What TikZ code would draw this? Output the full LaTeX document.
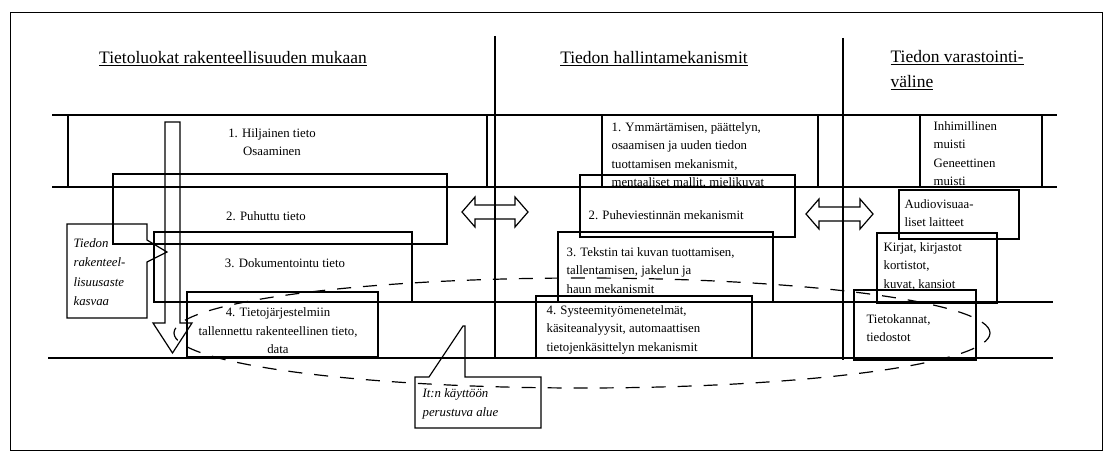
\documentclass[tikz,border=0pt]{standalone}
\usepackage{fontspec}
\setmainfont{Liberation Serif}
\usetikzlibrary{positioning}

\begin{document}
\begin{tikzpicture}[
  x=1pt, y=-1pt,
  line width=1.2pt, line join=miter,
  txt/.style={font=\fontsize{12.8}{18.5}\selectfont, inner sep=0pt, align=left, anchor=north west},
  ctxt/.style={font=\fontsize{12.8}{18.5}\selectfont, inner sep=0pt, align=center},
  itxt/.style={txt, font=\fontsize{12.8}{19.5}\selectfont\itshape},
  head/.style={font=\fontsize{17.5}{25}\selectfont, inner sep=0pt, align=left},
  band/.style={line width=1.2pt},
  area/.style={dash pattern=on 14pt off 12pt, line width=1.2pt}
]
\useasboundingbox (0,0) rectangle (1106,452);
\draw[line width=0.9pt] (10,12) rectangle (1102,450);

% column headings
\node[head] (hcls) at (233,59) {\underline{Tietoluokat rakenteellisuuden mukaan}};
\node[head] (hmech) at (654,59) {\underline{Tiedon hallintamekanismit}};
\node[head, anchor=north west] (hstore) at (890,50) {\underline{Tiedon varastointi-}\\\underline{väline}};

% dividers and bands
\draw (495,36) -- (495,358);
\draw (843,38) -- (843,360);
\draw[band] (52,115) -- (1057,115);
\draw[band] (52,187) -- (1057,187);
\draw[band] (154,302) -- (1053,302);
\draw[band] (48,358) -- (1053,358);

% information classes
\draw (68,115) rectangle (487,187);
\draw (113,174) rectangle (447,244);
\draw (154,232) rectangle (412,302);
\draw (187,292) rectangle (378,357);
\node[ctxt] (tacit) at (272,142) {1. Hiljainen tieto\\Osaaminen};
\node[ctxt] (spoken) at (266,216) {2. Puhuttu tieto};
\node[ctxt] (docum) at (285,263) {3. Dokumentointu tieto};
\node[ctxt] (stored) at (278,331) {4. Tietojärjestelmiin\\tallennettu rakenteellinen tieto,\\data};

% mechanisms
\draw (602,115) rectangle (818,187);
\draw (580,175) rectangle (795,237);
\draw (558,232) rectangle (773,302);
\draw (536,296) rectangle (752,358);
\node[txt] (mcog) at (611,122) {1. Ymmärtämisen, päättelyn,\\osaamisen ja uuden tiedon\\tuottamisen mekanismit,\\mentaaliset mallit, mielikuvat};
\node[txt, anchor=west] (mspeech) at (588,215) {2. Puheviestinnän mekanismit};
\node[txt] (mtext) at (566,247) {3. Tekstin tai kuvan tuottamisen,\\tallentamisen, jakelun ja\\haun mekanismit};
\node[txt] (msys) at (546,305) {4. Systeemityömenetelmät,\\käsiteanalyysit, automaattisen\\tietojenkäsittelyn mekanismit};

% storage media
\draw (920,115) rectangle (1042,187);
\draw (899,190) rectangle (1019,239);
\draw (877,233) rectangle (997,303);
\draw (854,290) rectangle (976,360);
\node[txt] (shuman) at (933,121) {Inhimillinen\\muisti\\Geneettinen\\muisti};
\node[txt] (sav) at (904,199) {Audiovisuaa-\\liset laitteet};
\node[txt] (sbook) at (883,242) {Kirjat, kirjastot\\kortistot,\\kuvat, kansiot};
\node[txt] (sdb) at (866,314) {Tietokannat,\\tiedostot};

% block arrows
\draw (165,122) -- (180,122) -- (180,323) -- (192,323) -- (172.5,353) -- (153,323) -- (165,323) -- cycle;
\draw (462,212) -- (475,197) -- (475,205) -- (515,205) -- (515,197) -- (528,212)
  -- (515,227) -- (515,219) -- (475,219) -- (475,227) -- cycle;
\draw (806,214) -- (819,199) -- (819,207) -- (860,207) -- (860,199) -- (873,214)
  -- (860,229) -- (860,221) -- (819,221) -- (819,229) -- cycle;

% callouts
\draw (67,224) -- (147,224) -- (147,240) -- (167,252) -- (147,262) -- (147,318) -- (67,318) -- cycle;
\node[itxt] (grow) at (73,238) {Tiedon\\rakenteel-\\lisuusaste\\kasvaa};
\draw (415,377) -- (429,377) -- (463,326) -- (465,326) -- (465,377) -- (541,377) -- (541,428) -- (415,428) -- cycle;
\node[itxt] (itarea) at (422,388) {It:n käyttöön\\perustuva alue};

% IT area
\draw[area] (582,333) ellipse [x radius=408pt, y radius=55pt];
\end{tikzpicture}
\end{document}
